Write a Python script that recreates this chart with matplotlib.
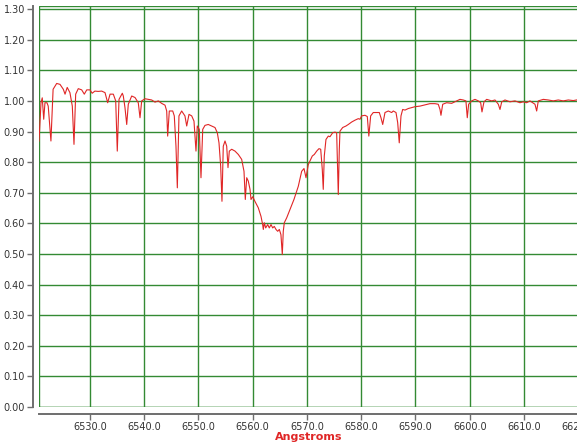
import matplotlib
matplotlib.use("Agg")
import matplotlib.pyplot as plt
from matplotlib.patches import Rectangle
from matplotlib.ticker import FormatStrFormatter

# spectrum around H-alpha
wavelength = [
    6520.6, 6520.97, 6521.2, 6521.47, 6521.7, 6522.07, 6522.3, 6522.8, 6523.2, 6523.86,
    6524.47, 6525.08, 6525.4, 6525.8, 6526.3, 6526.74, 6527.05, 6527.36, 6527.84, 6528.47,
    6528.95, 6529.4, 6530.0, 6530.4, 6530.9, 6531.5, 6532.16, 6532.77, 6533.26, 6533.7,
    6534.3, 6534.74, 6535.03, 6535.35, 6535.96, 6536.14, 6536.45, 6536.77, 6537.06, 6537.69,
    6538.3, 6538.9, 6539.22, 6539.53, 6540.14, 6540.75, 6541.37, 6541.98, 6542.6, 6543.2,
    6543.83, 6544.14, 6544.32, 6544.62, 6545.25, 6545.54, 6545.85, 6546.1, 6546.4, 6546.9,
    6547.5, 6547.83, 6548.25, 6548.75, 6549.17, 6549.54, 6549.78, 6550.15, 6550.46, 6550.78,
    6551.2, 6551.8, 6552.43, 6553.04, 6553.47, 6553.78, 6554.09, 6554.33, 6554.57, 6554.89,
    6555.2, 6555.44, 6555.68, 6556.12, 6556.73, 6557.34, 6557.96, 6558.39, 6558.63, 6558.89,
    6559.18, 6559.5, 6559.68, 6560.0, 6560.4, 6561.02, 6561.52, 6561.83, 6561.95, 6562.13,
    6562.39, 6562.76, 6563.05, 6563.37, 6563.68, 6563.97, 6564.29, 6564.6, 6564.9, 6565.2,
    6565.45, 6565.63, 6565.82, 6566.26, 6566.87, 6567.6, 6568.4, 6569.02, 6569.45, 6569.82,
    6570.24, 6570.68, 6570.98, 6571.35, 6571.79, 6572.21, 6572.53, 6572.82, 6573.0, 6573.19,
    6573.5, 6573.93, 6574.24, 6574.74, 6575.16, 6575.47, 6575.59, 6575.77, 6575.96, 6576.08,
    6576.58, 6577.19, 6577.62, 6578.24, 6578.85, 6579.46, 6579.77, 6580.08, 6580.69, 6581.12,
    6581.4, 6581.74, 6582.22, 6582.85, 6583.33, 6583.64, 6583.96, 6584.38, 6584.99, 6585.61,
    6585.91, 6586.41, 6586.72, 6587.01, 6587.33, 6587.64, 6588.07, 6588.67, 6589.3, 6589.91,
    6590.83, 6591.75, 6592.67, 6593.6, 6594.2, 6594.52, 6594.7, 6595.02, 6595.75, 6596.67,
    6597.6, 6598.2, 6598.8, 6599.3, 6599.55, 6599.8, 6600.36, 6600.97, 6601.58, 6602.02,
    6602.26, 6602.63, 6603.13, 6604.05, 6604.66, 6605.27, 6605.58, 6605.9, 6606.5, 6607.42,
    6608.34, 6609.26, 6609.87, 6610.5, 6611.1, 6612.03, 6612.34, 6612.64, 6613.56, 6614.48,
    6615.4, 6616.32, 6617.24, 6618.17, 6619.09, 6619.7,
]
flux = [
    0.869, 0.994, 1.010, 0.940, 0.994, 0.994, 0.983, 0.869, 1.038, 1.057,
    1.054, 1.038, 1.022, 1.044, 1.027, 0.983, 0.858, 1.022, 1.040, 1.036,
    1.022, 1.036, 1.036, 1.025, 1.032, 1.031, 1.032, 1.027, 0.994, 1.022,
    1.022, 1.000, 0.836, 1.005, 1.025, 1.016, 0.978, 0.923, 0.989, 1.016,
    1.011, 0.994, 0.945, 1.000, 1.007, 1.005, 1.003, 0.996, 1.000, 0.992,
    0.986, 0.967, 0.885, 0.967, 0.967, 0.951, 0.852, 0.716, 0.951, 0.967,
    0.951, 0.918, 0.956, 0.951, 0.934, 0.836, 0.918, 0.907, 0.749, 0.907,
    0.920, 0.923, 0.918, 0.913, 0.896, 0.863, 0.787, 0.672, 0.852, 0.869,
    0.852, 0.782, 0.836, 0.842, 0.836, 0.825, 0.809, 0.770, 0.678, 0.749,
    0.738, 0.711, 0.678, 0.687, 0.672, 0.651, 0.623, 0.596, 0.580, 0.602,
    0.585, 0.596, 0.585, 0.596, 0.585, 0.590, 0.580, 0.574, 0.580, 0.563,
    0.498, 0.574, 0.602, 0.618, 0.645, 0.678, 0.721, 0.770, 0.779, 0.749,
    0.792, 0.809, 0.820, 0.825, 0.836, 0.844, 0.842, 0.776, 0.711, 0.820,
    0.874, 0.885, 0.883, 0.896, 0.898, 0.896, 0.820, 0.694, 0.842, 0.901,
    0.913, 0.918, 0.923, 0.931, 0.937, 0.942, 0.940, 0.951, 0.953, 0.949,
    0.885, 0.951, 0.962, 0.962, 0.962, 0.945, 0.923, 0.962, 0.967, 0.962,
    0.967, 0.962, 0.929, 0.863, 0.951, 0.972, 0.970, 0.975, 0.978, 0.981,
    0.983, 0.987, 0.991, 0.991, 0.989, 0.972, 0.953, 0.989, 0.994, 0.992,
    1.000, 1.005, 1.003, 1.000, 0.945, 0.989, 1.000, 1.005, 1.000, 0.994,
    0.964, 0.997, 1.005, 1.000, 1.003, 0.989, 0.972, 0.997, 1.003, 0.997,
    1.000, 0.994, 0.997, 0.994, 1.000, 0.989, 0.967, 1.000, 1.005, 1.003,
    1.000, 1.003, 1.000, 1.003, 1.001, 1.003,
]

x_ticks = [6530, 6540, 6550, 6560, 6570, 6580, 6590, 6600, 6610, 6620]
y_ticks = [0.0, 0.1, 0.2, 0.3, 0.4, 0.5, 0.6, 0.7, 0.8, 0.9, 1.0, 1.1, 1.2, 1.3]
x_label = "Angstroms"

line_red = "#e02626"
grid_green = "#338a33"
axis_gray = "#6e6e6e"

fig = plt.figure(figsize=(5.77, 4.48), dpi=100)
ax = fig.add_axes([39 / 577, 41 / 448, 540.3 / 577, 401 / 448])

ax.plot(wavelength, flux, color=line_red, lw=0.8)

ax.set_xlim(6520.6, 6620.2)
ax.set_ylim(0, 1.31)
ax.set_xticks(x_ticks)
ax.set_yticks(y_ticks)
ax.xaxis.set_major_formatter(FormatStrFormatter("%.1f"))
ax.yaxis.set_major_formatter(FormatStrFormatter("%.2f"))
ax.grid(True, color=grid_green, lw=1.0)
ax.set_axisbelow(True)

# green frame round the plot area
ax.add_patch(Rectangle((0, 0), 1, 1, transform=ax.transAxes, fill=False,
                       edgecolor=grid_green, lw=1.0, zorder=0.5))

for side in ["top", "right"]:
    ax.spines[side].set_visible(False)
ax.spines["left"].set_position(("outward", 4))
ax.spines["bottom"].set_position(("outward", 5))
for side in ["left", "bottom"]:
    ax.spines[side].set_color(axis_gray)
    ax.spines[side].set_linewidth(1.4)

ax.tick_params(axis="both", colors=axis_gray, labelcolor="#333333",
               labelsize=7, length=4, width=1, pad=2)

ax.set_xlabel(x_label, color=line_red, fontweight="bold", fontsize=8, labelpad=0)

fig.savefig("out.png", dpi=100)
